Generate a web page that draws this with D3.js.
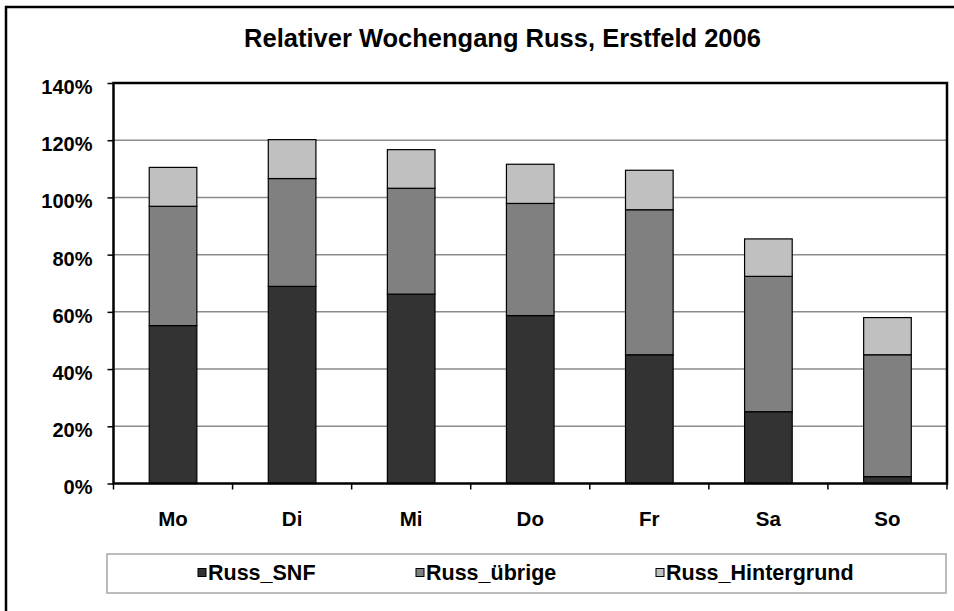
<!DOCTYPE html>
<html>
<head>
<meta charset="utf-8">
<script src="https://cdn.jsdelivr.net/npm/d3@7"></script>
<style>
  body { margin: 0; background: #fff; }
  svg text { font-family: "Liberation Sans", Arial, sans-serif; font-weight: bold; fill: #000; }
</style>
</head>
<body>
<script>
// data
const days = ['Mo', 'Di', 'Mi', 'Do', 'Fr', 'Sa', 'So'];
const seriesNames = ['Russ_SNF', 'Russ_übrige', 'Russ_Hintergrund'];
const russSNF = [55.2, 68.9, 66.2, 58.7, 45.0, 25.1, 2.4];
const russUebrige = [41.7, 37.7, 37.0, 39.2, 50.7, 47.3, 42.6];
const russHintergrund = [13.6, 13.6, 13.5, 13.7, 13.8, 13.1, 13.0];
const yTicks = [0, 20, 40, 60, 80, 100, 120, 140];
const colours = ['#333333', '#808080', '#c0c0c0'];

const width = 954, height = 611;
const margin = { top: 83, right: 7, bottom: 127.5, left: 113.5 };

const svg = d3.select('body').append('svg')
  .attr('width', width)
  .attr('height', height);

// outer chart frame
svg.append('rect')
  .attr('x', 6).attr('y', 7)
  .attr('width', width + 10).attr('height', height + 10)
  .attr('fill', 'none').attr('stroke', '#000').attr('stroke-width', 2.5);

svg.append('text')
  .attr('x', 502.5).attr('y', 47)
  .attr('text-anchor', 'middle')
  .style('font-size', '25.5px')
  .text('Relativer Wochengang Russ, Erstfeld 2006');

const table = days.map((d, i) => ({
  day: d,
  Russ_SNF: russSNF[i],
  'Russ_übrige': russUebrige[i],
  Russ_Hintergrund: russHintergrund[i]
}));
const stacked = d3.stack().keys(seriesNames)(table);

const x = d3.scaleBand()
  .domain(days)
  .range([margin.left, width - margin.right])
  .paddingInner(0.6).paddingOuter(0.3);

const y = d3.scaleLinear()
  .domain([0, 140])
  .range([height - margin.bottom, margin.top]);

// gridlines
svg.append('g')
  .selectAll('line')
  .data(yTicks.filter(t => t > 0 && t < 140))
  .join('line')
  .attr('x1', margin.left).attr('x2', width - margin.right)
  .attr('y1', d => y(d)).attr('y2', d => y(d))
  .attr('stroke', '#8c8c8c').attr('stroke-width', 1.5);

// bars
svg.append('g')
  .selectAll('g')
  .data(stacked)
  .join('g')
  .attr('fill', (d, i) => colours[i])
  .selectAll('rect')
  .data(d => d)
  .join('rect')
  .attr('x', d => x(d.data.day))
  .attr('width', x.bandwidth())
  .attr('y', d => y(d[1]))
  .attr('height', d => y(d[0]) - y(d[1]))
  .attr('stroke', '#000').attr('stroke-width', 1.2);

// plot area border
svg.append('rect')
  .attr('x', margin.left).attr('y', margin.top)
  .attr('width', width - margin.right - margin.left)
  .attr('height', height - margin.bottom - margin.top)
  .attr('fill', 'none').attr('stroke', '#000').attr('stroke-width', 2.5);

// y axis
const yAxis = d3.axisLeft(y)
  .tickValues(yTicks)
  .tickSize(6)
  .tickPadding(15)
  .tickFormat(d => d + '%');
const gy = svg.append('g')
  .attr('transform', `translate(${margin.left},0)`)
  .call(yAxis);
gy.select('.domain').remove();
gy.selectAll('.tick line').attr('stroke', '#000').attr('stroke-width', 1.5);
gy.selectAll('.tick text')
  .attr('y', 4)
  .style('font-size', '20px')
  .style('font-family', '"Liberation Sans", Arial, sans-serif');

// x axis: ticks between categories
const xTickPos = d3.range(days.length + 1).map(i => margin.left + i * (width - margin.right - margin.left) / days.length);
svg.append('g')
  .selectAll('line')
  .data(xTickPos)
  .join('line')
  .attr('x1', d => d).attr('x2', d => d)
  .attr('y1', y(0)).attr('y2', y(0) + 6)
  .attr('stroke', '#000').attr('stroke-width', 1.5);

svg.append('g')
  .selectAll('text')
  .data(days)
  .join('text')
  .attr('x', d => x(d) + x.bandwidth() / 2)
  .attr('y', 526)
  .attr('text-anchor', 'middle')
  .style('font-size', '20.5px')
  .text(d => d);

// legend
svg.append('rect')
  .attr('x', 107).attr('y', 554)
  .attr('width', 839).attr('height', 39)
  .attr('fill', '#fff').attr('stroke', '#a6a6a6').attr('stroke-width', 1.5);

const legendX = [198, 416, 656];
const legend = svg.append('g')
  .selectAll('g')
  .data(seriesNames)
  .join('g')
  .attr('transform', (d, i) => `translate(${legendX[i]},573)`);
legend.append('rect')
  .attr('x', 0).attr('y', -4.5)
  .attr('width', 8).attr('height', 8)
  .attr('fill', (d, i) => colours[i])
  .attr('stroke', '#000').attr('stroke-width', 1);
legend.append('text')
  .attr('x', 10).attr('y', 6.5)
  .style('font-size', '21.5px')
  .text(d => d);
</script>
</body>
</html>
